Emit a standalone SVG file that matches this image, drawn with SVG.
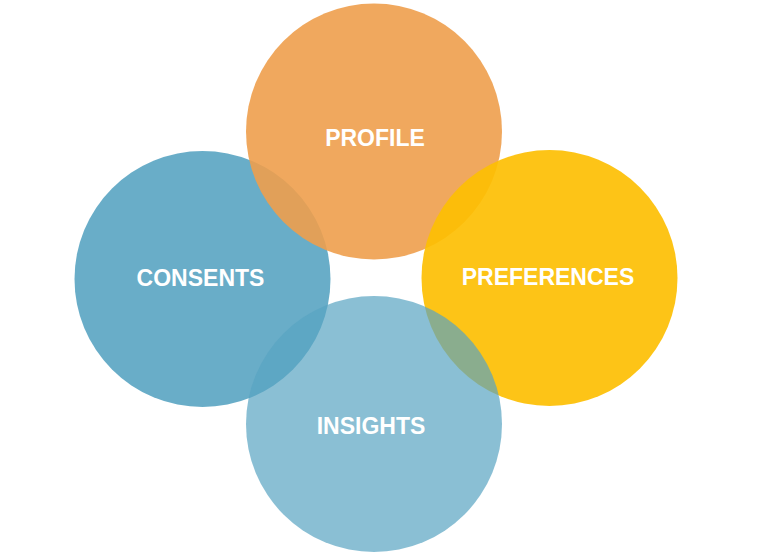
<svg xmlns="http://www.w3.org/2000/svg" width="758" height="556" viewBox="0 0 758 556">
<style>
.lbl{font-family:"Liberation Sans",Arial,sans-serif;font-weight:bold;font-size:23px;fill:#fff;text-anchor:middle}
</style>
<rect width="758" height="556" fill="#fff"/>
<g id="consents"><circle cx="202.5" cy="279" r="128" fill="#59A4C2" fill-opacity="0.9"/></g>
<g id="profile"><circle cx="374" cy="131.5" r="128" fill="#EE9E4C" fill-opacity="0.9"/></g>
<g id="preferences"><circle cx="549.5" cy="278" r="128" fill="#FDBF03" fill-opacity="0.92"/></g>
<g id="insights"><circle cx="374" cy="424" r="128" fill="#59A4C2" fill-opacity="0.7"/></g>
<g id="labels">
<text class="lbl" x="375" y="146">PROFILE</text>
<text class="lbl" x="200.5" y="286">CONSENTS</text>
<text class="lbl" x="548" y="285">PREFERENCES</text>
<text class="lbl" x="371" y="434">INSIGHTS</text>
</g>
<g id="connectors"/>
</svg>
